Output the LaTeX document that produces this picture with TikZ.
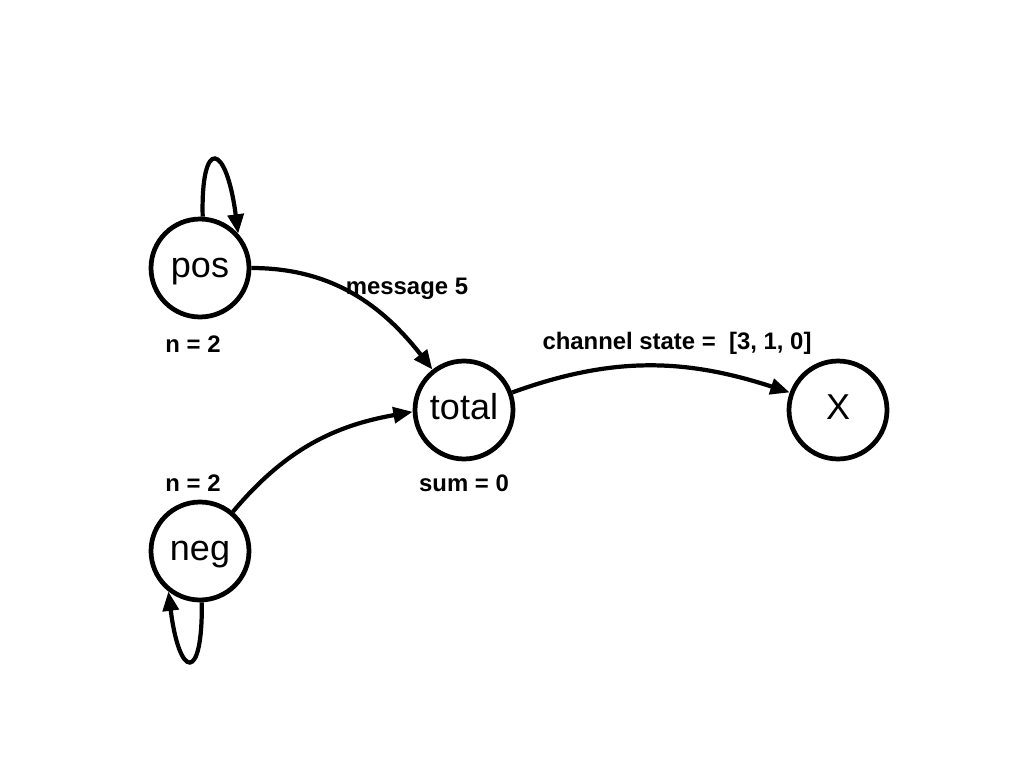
\documentclass[tikz,border=0pt]{standalone}
\usepackage{fontspec}
\setsansfont{Liberation Sans}
\usetikzlibrary{arrows.meta, positioning}

\begin{document}
\begin{tikzpicture}[
    font=\sffamily,
    >={Triangle[length=11pt, width=9pt]},
    x=0.02cm, y=-0.02cm, % one unit per pixel, y going down
    proc/.style={circle, draw, line width=2.7pt, minimum size=1.96cm, inner sep=0pt, text height=14pt, text depth=3pt, font=\sffamily\fontsize{20.5}{24}\selectfont}, % style for the processes
    info/.style={font=\sffamily\bfseries\fontsize{13.6}{16}\selectfont},
    link/.style={->, line width=2.4pt}
]

\useasboundingbox (0,0) rectangle (1024,768);

% --- Processes ---
\node[proc] (pos) at (200,268) {pos};
\node[proc] (neg) at (200,551) {neg};
\node[proc] (total) at (464,410) {total};
\node[proc] (x) at (838,410) {X};

% --- State labels ---
\node[info] (posstate) at (193,344) {n = 2};
\node[info] (negstate) at (193,483) {n = 2};
\node[info] (totalstate) at (464,483) {sum = 0};
\node[info] (msg) at (407,289) {message 5};
\node[info] (chan) at (677,343) {channel state = \ [3, 1, 0]};

% --- Channels between processes ---
\draw[link] (pos.east) to[out=0, in=128] (total.128);
\draw[link] (neg.50) to[out=50, in=190] (total.182);
\draw[link] (total.20) to[out=20, in=162] (x.160);

% --- Self loops ---
\draw[link] (pos.87) .. controls +(-2,-80) and +(-12,-92) .. (pos.42);
\draw[link] (neg.272) .. controls +(1,81) and +(11,88) .. (neg.232);

\end{tikzpicture}
\end{document}
